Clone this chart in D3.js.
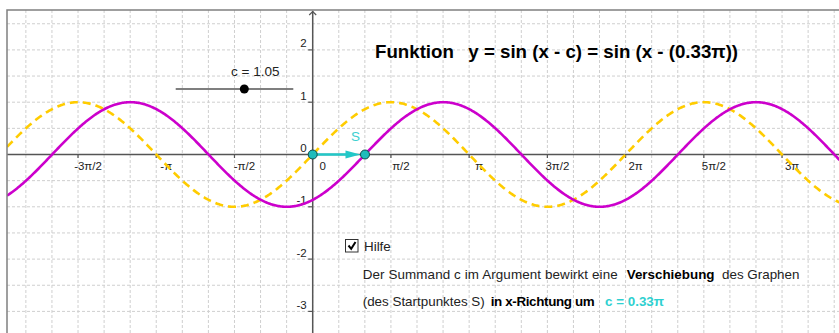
<!DOCTYPE html>
<html>
<head>
<meta charset="utf-8">
<script src="https://cdn.jsdelivr.net/npm/d3@7"></script>
<style>
  html, body { margin: 0; padding: 0; background: #fff; }
  svg { display: block; font-family: "Liberation Sans", Arial, sans-serif; }
</style>
</head>
<body>
<div id="chart"></div>
<script>
// parameter of the shifted function
const c = 1.05
const cText = '0.33π'
const sliderRange = [0, 1.8]

// tick positions (multiples of pi) and their labels
const xTickValues = [-1.5, -1, -0.5, 0, 0.5, 1, 1.5, 2, 2.5, 3]
const xTickLabels = ['-3π/2', '-π', '-π/2', '0', 'π/2', 'π', '3π/2', '2π', '5π/2', '3π']
const yTickValues = [-3, -2, -1, 1, 2]
const yTickLabels = ['-3', '-2', '-1', '1', '2']

const helpLine1 = ['Der Summand c im Argument bewirkt eine', 'Verschiebung', 'des Graphen']
const helpLine2 = ['(des Startpunktes S)', 'in x-Richtung um', 'c = ' + cText]

;(function drawChart() {
  const W = 839, H = 333
  const FRAME_LEFT = 7, FRAME_TOP = 10
  const PX_PER_RAD = 49.8, PX_PER_UNIT = 52.3
  const X0 = 312.7, Y0 = 154.5

  const x = d3.scaleLinear()
    .domain([0, 1])
    .range([X0, X0 + PX_PER_RAD])
  const y = d3.scaleLinear()
    .domain([0, 1])
    .range([Y0, Y0 - PX_PER_UNIT])

  const xMin = x.invert(FRAME_LEFT), xMax = x.invert(W)
  const yMin = y.invert(H), yMax = y.invert(FRAME_TOP)

  const svg = d3.select('#chart')
    .append('svg')
    .attr('width', W)
    .attr('height', H)

  svg.append('defs').append('clipPath')
    .attr('id', 'plot-clip')
    .append('rect')
    .attr('x', FRAME_LEFT).attr('y', FRAME_TOP)
    .attr('width', W - FRAME_LEFT).attr('height', H - FRAME_TOP)

  const plot = svg.append('g').attr('clip-path', 'url(#plot-clip)')

  // grid: pi/6 in x, 0.5 in y
  const gridX = d3.range(Math.ceil(xMin / (Math.PI / 6)), Math.floor(xMax / (Math.PI / 6)) + 1)
    .map((k) => k * Math.PI / 6)
  const gridY = d3.range(Math.ceil(yMin * 2), Math.floor(yMax * 2) + 1).map((k) => k / 2)

  plot.append('g').selectAll('line')
    .data(gridX)
    .enter().append('line')
    .attr('x1', (d) => x(d)).attr('x2', (d) => x(d))
    .attr('y1', FRAME_TOP).attr('y2', H)
    .attr('stroke', '#cfcfcf').attr('stroke-dasharray', '3,2')
  plot.append('g').selectAll('line')
    .data(gridY)
    .enter().append('line')
    .attr('x1', FRAME_LEFT).attr('x2', W)
    .attr('y1', (d) => y(d)).attr('y2', (d) => y(d))
    .attr('stroke', '#cfcfcf').attr('stroke-dasharray', '3,2')

  // axes
  const axisColor = '#555'
  plot.append('line')
    .attr('x1', FRAME_LEFT).attr('x2', W)
    .attr('y1', y(0)).attr('y2', y(0))
    .attr('stroke', axisColor).attr('stroke-width', 1.5)
  plot.append('line')
    .attr('x1', x(0)).attr('x2', x(0))
    .attr('y1', FRAME_TOP + 1).attr('y2', H)
    .attr('stroke', axisColor).attr('stroke-width', 1.5)
  plot.append('path')
    .attr('d', `M${x(0) - 3.5},${FRAME_TOP + 5} L${x(0)},${FRAME_TOP + 1.5} L${x(0) + 3.5},${FRAME_TOP + 5}`)
    .attr('fill', 'none').attr('stroke', axisColor).attr('stroke-width', 1.2)

  // x ticks
  const xTicks = plot.append('g').selectAll('g')
    .data(xTickValues.map((v, i) => ({value: v * Math.PI, label: xTickLabels[i]})))
    .enter().append('g')
  xTicks.filter((d) => d.value !== 0).append('line')
    .attr('x1', (d) => x(d.value)).attr('x2', (d) => x(d.value))
    .attr('y1', y(0)).attr('y2', y(0) + 3.5)
    .attr('stroke', axisColor).attr('stroke-width', 1.2)
  xTicks.append('text')
    .attr('x', (d) => x(d.value) + 10)
    .attr('y', y(0) + 15.5)
    .attr('text-anchor', 'middle')
    .attr('font-size', 11.5)
    .attr('fill', '#222')
    .text((d) => d.label)

  // y ticks
  const yTicks = plot.append('g').selectAll('g')
    .data(yTickValues.map((v, i) => ({value: v, label: yTickLabels[i]})))
    .enter().append('g')
  yTicks.append('line')
    .attr('x1', x(0) - 4.5).attr('x2', x(0))
    .attr('y1', (d) => y(d.value)).attr('y2', (d) => y(d.value))
    .attr('stroke', axisColor).attr('stroke-width', 1.2)
  yTicks.append('text')
    .attr('x', x(0) - 6)
    .attr('y', (d) => y(d.value) - 2.5)
    .attr('text-anchor', 'end')
    .attr('font-size', 11.5)
    .attr('fill', '#222')
    .text((d) => d.label)
  plot.append('text')
    .attr('x', x(0) - 6).attr('y', y(0) - 3)
    .attr('text-anchor', 'end')
    .attr('font-size', 11.5).attr('fill', '#222')
    .text('0')

  // curves y = sin(x) and y = sin(x - c)
  const samples = d3.range(xMin, xMax + 0.02, 0.02)
  const line = d3.line()
    .x((d) => x(d[0]))
    .y((d) => y(d[1]))

  plot.append('path')
    .attr('d', line(samples.map((t) => [t, Math.sin(t)])))
    .attr('fill', 'none')
    .attr('stroke', '#ffcc00')
    .attr('stroke-width', 2.6)
    .attr('stroke-dasharray', '8,5')
  plot.append('path')
    .attr('d', line(samples.map((t) => [t, Math.sin(t - c)])))
    .attr('fill', 'none')
    .attr('stroke', '#cc00cc')
    .attr('stroke-width', 2.6)

  // shift arrow from origin to start point S
  const cyan = '#22c8c8'
  const tipX = x(c) - 4.5
  plot.append('line')
    .attr('x1', x(0)).attr('x2', tipX - 12)
    .attr('y1', y(0)).attr('y2', y(0))
    .attr('stroke', cyan).attr('stroke-width', 2.6)
  plot.append('path')
    .attr('d', `M${tipX},${y(0)} L${tipX - 15},${y(0) - 4} L${tipX - 15},${y(0) + 4} Z`)
    .attr('fill', cyan)

  plot.selectAll('circle.pt')
    .data([0, c])
    .enter().append('circle')
    .attr('class', 'pt')
    .attr('cx', (d) => x(d)).attr('cy', y(0))
    .attr('r', 4.5)
    .attr('fill', '#1fbcbc')
    .attr('stroke', '#134848').attr('stroke-width', 1)

  plot.append('text')
    .attr('x', x(c) - 14).attr('y', y(0) - 14)
    .attr('font-size', 13.5)
    .attr('fill', '#3cd0d0')
    .text('S')

  // frame
  svg.append('path')
    .attr('d', `M${W},${FRAME_TOP} H${FRAME_LEFT} V${H}`)
    .attr('fill', 'none').attr('stroke', '#808080').attr('stroke-width', 1.5)

  // slider for c
  const slider = d3.scaleLinear().domain(sliderRange).range([175.7, 293.3])
  svg.append('line')
    .attr('x1', slider.range()[0]).attr('x2', slider.range()[1])
    .attr('y1', 89).attr('y2', 89)
    .attr('stroke', '#000').attr('stroke-width', 1.2)
  svg.append('circle')
    .attr('cx', slider(c)).attr('cy', 89).attr('r', 4.5)
    .attr('fill', '#000')
  svg.append('text')
    .attr('x', 231).attr('y', 76)
    .attr('font-size', 13.5).attr('fill', '#222')
    .text('c = ' + c.toFixed(2))

  // title
  const title = svg.append('text')
    .attr('y', 58.3)
    .attr('font-size', 18.7)
    .attr('font-weight', 'bold')
    .attr('fill', '#000')
  title.append('tspan').attr('x', 375).text('Funktion')
  title.append('tspan').attr('x', 468.3).text('y = sin (x - c) = sin (x - (' + cText + '))')

  // help box
  svg.append('rect')
    .attr('x', 345.5).attr('y', 239.5).attr('width', 12.5).attr('height', 12.5)
    .attr('fill', '#fff').attr('stroke', '#333').attr('stroke-width', 1)
  svg.append('path')
    .attr('d', 'M348.5,245.5 L351.2,248.8 L355.5,242')
    .attr('fill', 'none').attr('stroke', '#000').attr('stroke-width', 2)
  svg.append('text')
    .attr('x', 364).attr('y', 251)
    .attr('font-size', 13.4).attr('fill', '#222')
    .text('Hilfe')

  // segments of the help text: start x (and width where the font runs narrow)
  const helpText = (yPos, parts, layout) => {
    const t = svg.append('text').attr('y', yPos).attr('font-size', 13.4).attr('fill', '#222')
    parts.forEach((p, i) => {
      const s = t.append('tspan')
        .attr('x', layout[i].x)
        .text(p)
      if (layout[i].w) s.attr('textLength', layout[i].w).attr('lengthAdjust', 'spacing')
      if (layout[i].bold) s.attr('font-weight', 'bold').attr('fill', layout[i].color || '#000')
    })
  }
  helpText(279, helpLine1, [
    {x: 362.7, w: 255},
    {x: 626.7, bold: true},
    {x: 722}
  ])
  helpText(306, helpLine2, [
    {x: 362.7},
    {x: 490.7, w: 104, bold: true},
    {x: 605, bold: true, color: '#2ed0d0'}
  ])
})()
</script>
</body>
</html>
